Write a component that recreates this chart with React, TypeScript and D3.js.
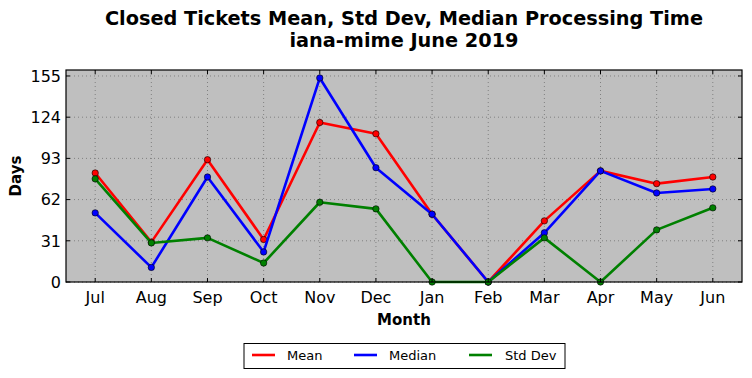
import React from "react";
import * as d3 from "d3";

const months = ["Jul", "Aug", "Sep", "Oct", "Nov", "Dec", "Jan", "Feb", "Mar", "Apr", "May", "Jun"];
const meanValues = [82, 30, 92, 32, 120, 111.5, 51, 0, 46, 83.6, 74, 79];
const medianValues = [52, 11, 79, 22.6, 153.5, 86, 51, 0, 37, 83.6, 67, 70];
const stdValues = [77.6, 29.4, 33.2, 14.3, 60, 55, 0, 0, 33.2, 0, 39.2, 55.8];
const yTicks = [0, 31, 62, 93, 124, 155];

const seriesList = [
  { name: "Mean", values: meanValues, color: "#ff0000" },
  { name: "Median", values: medianValues, color: "#0000ff" },
  { name: "Std Dev", values: stdValues, color: "#008000" },
];

export default function App() {
  const W = 752, H = 378;
  const left = 66, right = 742, top = 70, bottom = 282;
  const x = d3.scaleLinear().domain([-0.52, 11.52]).range([left, right]);
  const y = d3.scaleLinear().domain([0, 159.5]).range([bottom, top]);
  const line = d3.line<number>().x((_, i) => x(i)).y((d) => y(d));
  const font = "DejaVu Sans, sans-serif";
  const legendItems = [
    { x0: 252, tx: 287 },
    { x0: 354, tx: 389 },
    { x0: 469, tx: 505 },
  ];
  return (
    <svg width={W} height={H} style={{ position: "absolute", left: 0, top: 0, background: "#fff" }} fontFamily={font}>
      <rect x={left} y={top} width={right - left} height={bottom - top} fill="#bfbfbf" />
      {months.map((m, i) => (
        <line key={"gx" + i} x1={x(i)} x2={x(i)} y1={top} y2={bottom} stroke="#808080" strokeWidth={1} strokeDasharray="1,3" />
      ))}
      {yTicks.map((t) => (
        <line key={"gy" + t} x1={left} x2={right} y1={y(t)} y2={y(t)} stroke="#808080" strokeWidth={1} strokeDasharray="1,3" />
      ))}
      {seriesList.map((s) => (
        <g key={s.name}>
          <path d={line(s.values) || ""} fill="none" stroke={s.color} strokeWidth={2.6} strokeLinejoin="round" />
          {s.values.map((v, i) => (
            <circle key={i} cx={x(i)} cy={y(v)} r={3.2} fill={s.color} stroke="#000" strokeWidth={0.6} />
          ))}
        </g>
      ))}
      {months.map((m, i) => (
        <g key={"tx" + i}>
          <line x1={x(i)} x2={x(i)} y1={bottom} y2={bottom - 4} stroke="#000" />
          <line x1={x(i)} x2={x(i)} y1={top} y2={top + 4} stroke="#000" />
          <text x={x(i)} y={303} textAnchor="middle" fontSize={16}>{m}</text>
        </g>
      ))}
      {yTicks.map((t) => (
        <g key={"ty" + t}>
          <line x1={left} x2={left + 4} y1={y(t)} y2={y(t)} stroke="#000" />
          <line x1={right} x2={right - 4} y1={y(t)} y2={y(t)} stroke="#000" />
          <text x={left - 5} y={y(t) + 5.8} textAnchor="end" fontSize={16}>{t}</text>
        </g>
      ))}
      <rect x={left} y={top} width={right - left} height={bottom - top} fill="none" stroke="#000" strokeWidth={1.2} />
      <text x={404} y={25} textAnchor="middle" fontSize={19.3} fontWeight="bold">Closed Tickets Mean, Std Dev, Median Processing Time</text>
      <text x={404} y={47} textAnchor="middle" fontSize={19.3} fontWeight="bold">iana-mime June 2019</text>
      <text x={404} y={325} textAnchor="middle" fontSize={15} fontWeight="bold">Month</text>
      <text transform="translate(21,176) rotate(-90)" textAnchor="middle" fontSize={15} fontWeight="bold">Days</text>
      <rect x={244} y={343.5} width={321} height={25} fill="#fff" stroke="#000" strokeWidth={1} />
      {seriesList.map((s, k) => (
        <g key={"lg" + k}>
          <line x1={legendItems[k].x0} x2={legendItems[k].x0 + 23} y1={355} y2={355} stroke={s.color} strokeWidth={2.6} />
          <text x={legendItems[k].tx} y={360} fontSize={13}>{s.name}</text>
        </g>
      ))}
    </svg>
  );
}
